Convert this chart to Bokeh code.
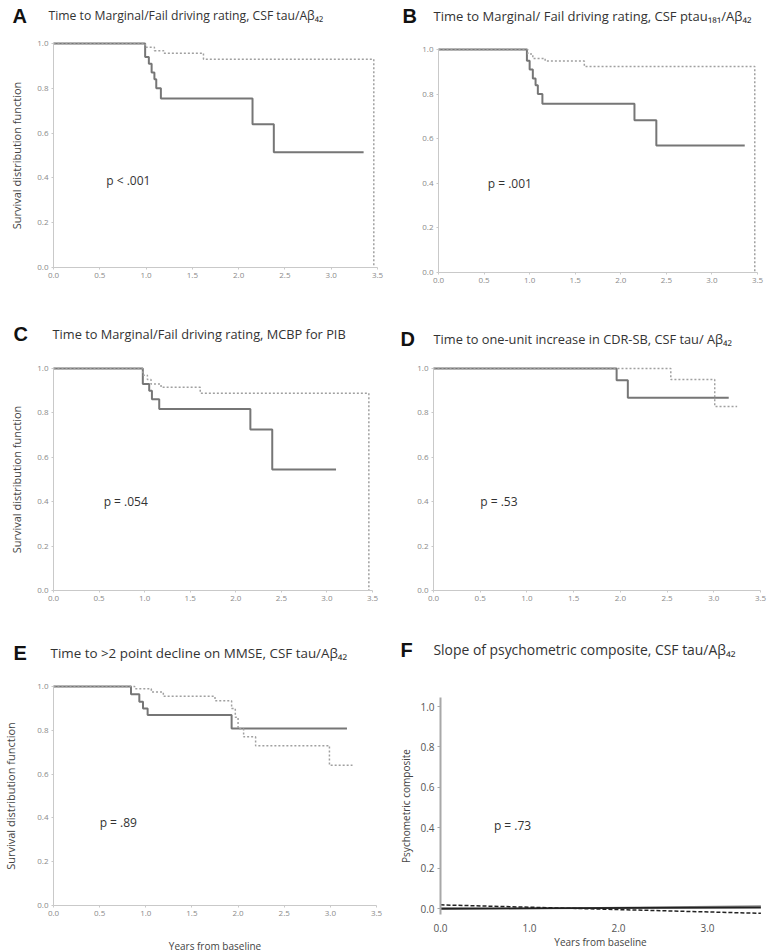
from bokeh.plotting import figure
from bokeh.layouts import column, row
from bokeh.models import Range1d, FixedTicker, Label, PrintfTickFormatter
from bokeh.embed import file_html
from bokeh.resources import INLINE

# ---------------- data ----------------
titles = [
    "Time to Marginal/Fail driving rating, CSF tau/A\u03b2\u2084\u2082",
    "Time to Marginal/ Fail driving rating, CSF ptau\u2081\u2088\u2081/A\u03b2\u2084\u2082",
    "Time to Marginal/Fail driving rating, MCBP for PIB",
    "Time to one-unit increase in CDR-SB, CSF tau/ A\u03b2\u2084\u2082",
    "Time to >2 point decline on MMSE, CSF tau/A\u03b2\u2084\u2082",
    "Slope of psychometric composite, CSF tau/A\u03b2\u2084\u2082",
]
letters = ["A", "B", "C", "D", "E", "F"]
p_values = ["p < .001", "p = .001", "p = .054", "p = .53", "p = .89", "p = .73"]

x_ticks = [0.0, 0.5, 1.0, 1.5, 2.0, 2.5, 3.0, 3.5]
y_ticks = [0.0, 0.2, 0.4, 0.6, 0.8, 1.0]
f_x_ticks = [0.0, 1.0, 2.0, 3.0]

# Panel A
A_solid_t = [0.99, 1.03, 1.06, 1.09, 1.11, 1.16, 2.15, 2.38]
A_solid_s = [0.94, 0.91, 0.87, 0.84, 0.80, 0.755, 0.64, 0.515]
A_solid_end = 3.35
A_dash_t = [0.99, 1.09, 1.19, 1.62]
A_dash_s = [0.983, 0.968, 0.957, 0.93]
A_dash_end = 3.46
A_dash_end_s = 0.0

# Panel B
B_solid_t = [0.97, 1.0, 1.035, 1.065, 1.09, 1.14, 2.15, 2.39]
B_solid_s = [0.95, 0.91, 0.87, 0.84, 0.80, 0.757, 0.683, 0.57]
B_solid_end = 3.36
B_dash_t = [0.98, 1.035, 1.17, 1.60]
B_dash_s = [0.98, 0.96, 0.948, 0.924]
B_dash_end = 3.47
B_dash_end_s = 0.0

# Panel C
C_solid_t = [0.98, 1.05, 1.08, 1.16, 2.16, 2.40]
C_solid_s = [0.93, 0.90, 0.862, 0.818, 0.725, 0.545]
C_solid_end = 3.10
C_dash_t = [0.98, 1.03, 1.07, 1.18, 1.61]
C_dash_s = [0.97, 0.95, 0.93, 0.915, 0.889]
C_dash_end = 3.46
C_dash_end_s = 0.0

# Panel D
D_solid_t = [1.96, 2.08]
D_solid_s = [0.947, 0.868]
D_solid_end = 3.16
D_dash_t = [2.54, 3.01]
D_dash_s = [0.95, 0.829]
D_dash_end = 3.25

# Panel E
E_solid_t = [0.84, 0.93, 0.97, 1.02, 1.93]
E_solid_s = [0.965, 0.93, 0.90, 0.87, 0.808]
E_solid_end = 3.18
E_dash_t = [0.88, 1.06, 1.19, 1.75, 1.93, 1.97, 2.0, 2.06, 2.19, 2.99]
E_dash_s = [0.99, 0.975, 0.955, 0.935, 0.90, 0.86, 0.807, 0.77, 0.73, 0.64]
E_dash_end = 3.24

# Panel F (fitted slopes)
F_years = [0.0, 3.6]
F_solid = [0.0, 0.005]
F_solid2 = [-0.004, 0.012]
F_dashed = [0.018, -0.024]

SOLID = "#767676"
DASH = "#a0a0a0"
AXIS = "#c9c9c9"
FONT = "Open Sans"


def km_xy(times, surv, end_t, end_s=None):
    xs = [0.0] + list(times) + [end_t]
    last = surv[-1] if end_s is None else end_s
    ys = [1.0] + list(surv) + [last]
    return xs, ys


class Panel:
    """Figure whose frame fills the whole canvas; axes are pinned at data 0."""

    def __init__(self, fx, fy, W, H, x0px, x1px, xmax, y1px, y0px, ymax=1.0):
        self.fx, self.fy, self.W, self.H = fx, fy, W, H
        sx = (x1px - x0px) / xmax
        sy = (y0px - y1px) / ymax
        xr = (-(x0px - fx) / sx, (fx + W - x0px) / sx)
        yr = (-(fy + H - y0px) / sy, (y0px - fy) / sy)
        p = figure(width=W, height=H, min_border=0, min_border_left=0, min_border_right=0,
                   min_border_top=0, min_border_bottom=0,
                   x_range=Range1d(*xr), y_range=Range1d(*yr),
                   output_backend="svg", toolbar_location=None)
        p.outline_line_color = None
        p.xgrid.visible = False
        p.ygrid.visible = False
        p.background_fill_color = "white"
        p.border_fill_color = "white"
        self.p = p

    def label(self, px, py, text, **kw):
        self.p.add_layout(Label(x=px - self.fx, y=self.fy + self.H - py,
                                x_units="screen", y_units="screen", text=text,
                                text_baseline="middle", **kw))

    def titles(self, letter, title, lx, ly, tx, ty, size="13px"):
        self.label(lx, ly, letter, text_font="Liberation Sans", text_font_style="bold",
                   text_font_size="20px", text_color="#111111")
        self.label(tx, ty, title, text_font=FONT, text_font_size=size, text_color="#333333")


def style_km_axes(p, ylabel=None, ylabel_standoff=10, xlabel=None, xlabel_standoff=10):
    xa, ya = p.xaxis[0], p.yaxis[0]
    for ax in (xa, ya):
        ax.fixed_location = 0
        ax.axis_line_color = AXIS
        ax.axis_line_width = 1
        ax.major_tick_line_color = AXIS
        ax.major_tick_out = 2
        ax.major_tick_in = 0
        ax.minor_tick_line_color = None
        ax.major_label_text_font = FONT
        ax.major_label_text_font_size = "8px"
        ax.major_label_text_color = "#8a8a8a"
        ax.major_label_standoff = 3
        ax.formatter = PrintfTickFormatter(format="%.1f")
    xa.bounds = (0, 3.5)
    ya.bounds = (0, 1.0)
    xa.ticker = FixedTicker(ticks=x_ticks)
    ya.ticker = FixedTicker(ticks=y_ticks)
    if ylabel:
        ya.axis_label = ylabel
        ya.axis_label_text_font = FONT
        ya.axis_label_text_font_size = "11px"
        ya.axis_label_text_font_style = "normal"
        ya.axis_label_text_color = "#444444"
        ya.axis_label_standoff = ylabel_standoff
    if xlabel:
        xa.axis_label = xlabel
        xa.axis_label_text_font = FONT
        xa.axis_label_text_font_size = "10px"
        xa.axis_label_text_font_style = "normal"
        xa.axis_label_text_color = "#444444"
        xa.axis_label_standoff = xlabel_standoff


def add_p(p, txt, x, y):
    p.add_layout(Label(x=x, y=y, text=txt, text_font=FONT, text_font_size="12px",
                       text_color="#333333", text_baseline="middle"))


def km_lines(p, solid, dashed):
    xs, ys = solid
    p.step(xs, ys, mode="after", line_color=SOLID, line_width=2)
    xd, yd = dashed
    p.step(xd, yd, mode="after", line_color=DASH, line_width=1.5, line_dash="2 2")


SURV = "Survival distribution function"
W1, W2 = 387, 388

# Row 1 (page y 0..300)
A = Panel(0, 0, W1, 300, 53, 377, 3.5, 43, 267)
style_km_axes(A.p, ylabel=SURV, ylabel_standoff=10)
km_lines(A.p, km_xy(A_solid_t, A_solid_s, A_solid_end), km_xy(A_dash_t, A_dash_s, A_dash_end, A_dash_end_s))
A.titles(letters[0], titles[0], 12, 15, 48, 15, "12.2px")
add_p(A.p, p_values[0], 0.57, 0.39)

B = Panel(W1, 0, W2, 300, 438, 757, 3.5, 49, 272)
style_km_axes(B.p)
km_lines(B.p, km_xy(B_solid_t, B_solid_s, B_solid_end), km_xy(B_dash_t, B_dash_s, B_dash_end, B_dash_end_s))
B.titles(letters[1], titles[1], 402, 15, 433, 15, "13px")
add_p(B.p, p_values[1], 0.54, 0.40)

# Row 2 (page y 300..612)
C = Panel(0, 300, W1, 312, 53, 372, 3.5, 368, 590)
style_km_axes(C.p, ylabel=SURV, ylabel_standoff=10)
km_lines(C.p, km_xy(C_solid_t, C_solid_s, C_solid_end), km_xy(C_dash_t, C_dash_s, C_dash_end, C_dash_end_s))
C.titles(letters[2], titles[2], 13, 333, 52, 333, "12.8px")
add_p(C.p, p_values[2], 0.55, 0.40)

D = Panel(W1, 300, W2, 312, 433, 760, 3.5, 368, 590)
style_km_axes(D.p)
km_lines(D.p, km_xy(D_solid_t, D_solid_s, D_solid_end), km_xy(D_dash_t, D_dash_s, D_dash_end))
D.titles(letters[3], titles[3], 400, 338, 433, 338, "12.8px")
add_p(D.p, p_values[3], 0.50, 0.40)

# Row 3 (page y 612..952)
E = Panel(0, 612, W1, 340, 53, 376, 3.5, 686, 905)
style_km_axes(E.p, ylabel=SURV, ylabel_standoff=16, xlabel="Years from baseline", xlabel_standoff=20)
km_lines(E.p, km_xy(E_solid_t, E_solid_s, E_solid_end), km_xy(E_dash_t, E_dash_s, E_dash_end))
E.titles(letters[4], titles[4], 13, 652, 50, 652, "13.4px")
add_p(E.p, p_values[4], 0.50, 0.38)

F = Panel(W1, 612, W2, 340, 440, 707, 3.0, 706, 908)
pF = F.p
pF.line(F_years, F_solid2, line_color="#8a8a8a", line_width=1.5)
pF.line(F_years, F_solid, line_color="#222222", line_width=1.8)
pF.line(F_years, F_dashed, line_color="#222222", line_width=1.5, line_dash="4 2")
xa, ya = pF.xaxis[0], pF.yaxis[0]
ya.fixed_location = 0
xa.fixed_location = -0.03
ya.bounds = (-0.03, 1.045)
xa.bounds = (0, 3.6)
ya.ticker = FixedTicker(ticks=y_ticks)
xa.ticker = FixedTicker(ticks=f_x_ticks)
for ax in (xa, ya):
    ax.formatter = PrintfTickFormatter(format="%.1f")
    ax.minor_tick_line_color = None
    ax.major_label_text_font = FONT
    ax.major_label_text_font_size = "10px"
    ax.major_label_text_color = "#555555"
    ax.major_label_standoff = 3
    ax.axis_label_text_font = FONT
    ax.axis_label_text_font_size = "10px"
    ax.axis_label_text_font_style = "normal"
    ax.axis_label_text_color = "#444444"
ya.axis_line_color = "#a8a8a8"
ya.axis_line_width = 2
ya.major_tick_line_color = "#a8a8a8"
ya.major_tick_out = 3
ya.major_tick_in = 0
xa.axis_line_color = None
xa.major_tick_line_color = None
ya.axis_label = "Psychometric composite"
xa.axis_label = "Years from baseline"
ya.axis_label_standoff = 4
xa.axis_label_standoff = 0
F.titles(letters[5], titles[5], 400, 649, 433, 649, "13.9px")
add_p(pF, p_values[5], 0.6, 0.41)

layout = column(row(A.p, B.p), row(C.p, D.p), row(E.p, F.p), spacing=0)
open("out.html", "w").write(file_html(layout, INLINE))
